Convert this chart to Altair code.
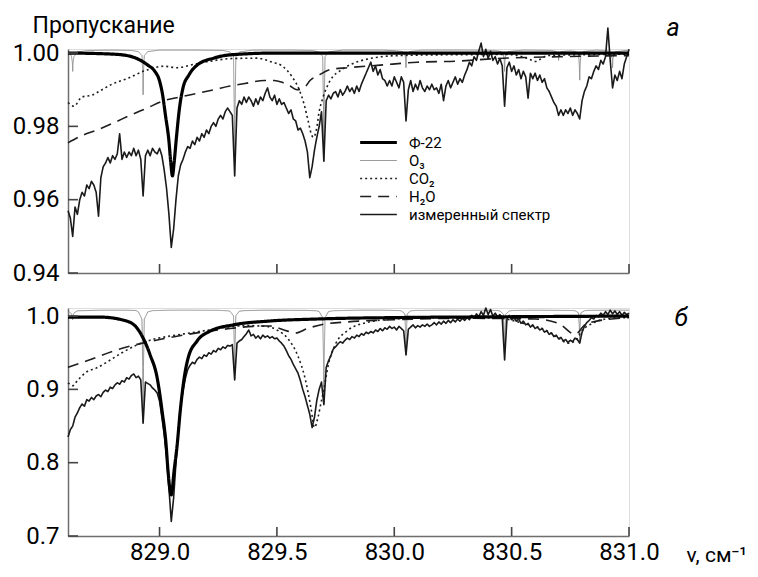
import altair as alt
import numpy as np
import pandas as pd

FONT = "Roboto"
AXIS_COLOR = "#6e6e6e"
W = 561
H_A = 224
H_B = 228

SERIES = ["Ф-22", "O₃", "CO₂", "H₂O", "измеренный спектр"]
COLORS = ["#000000", "#8f8f8f", "#1e1e1e", "#1e1e1e", "#1a1a1a"]
DASHES = [[1, 0], [1, 0], [2, 3], [11, 7], [1, 0]]
WIDTHS = [3.2, 1.0, 1.6, 1.6, 1.6]

X_TICKS = [829.0, 829.5, 830.0, 830.5, 831.0]
Y_TICKS_A = [0.94, 0.96, 0.98, 1.00]
Y_TICKS_B = [0.7, 0.8, 0.9, 1.0]

# sampling grid of the measured spectrum (cm-1)
NU_GRID = np.round(828.61 + 0.01 * np.arange(240), 2)

# ---------------- panel a ----------------
MEAS_A = [
    0.957, 0.955, 0.950, 0.958, 0.956, 0.960, 0.962, 0.961, 0.964, 0.963,
    0.965, 0.964, 0.962, 0.9555, 0.966, 0.969, 0.970, 0.9715, 0.970, 0.972,
    0.971, 0.9725, 0.978, 0.971, 0.973, 0.9715, 0.973, 0.972, 0.974, 0.972,
    0.9735, 0.971, 0.961, 0.972, 0.9735, 0.972, 0.974, 0.973, 0.9725, 0.974,
    0.972, 0.968, 0.963, 0.956, 0.947, 0.952, 0.960, 0.9665, 0.9695, 0.971,
    0.973, 0.9745, 0.974, 0.976, 0.975, 0.977, 0.976, 0.978, 0.977, 0.979,
    0.978, 0.980, 0.981, 0.980, 0.982, 0.983, 0.982, 0.984, 0.985, 0.984,
    0.983, 0.9665, 0.985, 0.987, 0.986, 0.988, 0.9865, 0.988, 0.987, 0.9855,
    0.9875, 0.986, 0.988, 0.987, 0.989, 0.9905, 0.988, 0.987, 0.9885, 0.986,
    0.9875, 0.986, 0.9865, 0.985, 0.9835, 0.9845, 0.982, 0.9815, 0.979, 0.9795,
    0.978, 0.976, 0.973, 0.966, 0.969, 0.9735, 0.977, 0.980, 0.984, 0.9705,
    0.987, 0.9885, 0.9875, 0.989, 0.9895, 0.988, 0.990, 0.9885, 0.9895, 0.991,
    0.9895, 0.9905, 0.989, 0.991, 0.9895, 0.9915, 0.993, 0.9945, 0.996, 0.9975,
    0.995, 0.9965, 0.994, 0.9955, 0.993, 0.9925, 0.991, 0.9925, 0.991, 0.9935,
    0.992, 0.9905, 0.9935, 0.992, 0.9815, 0.990, 0.9925, 0.9895, 0.9915, 0.990,
    0.9925, 0.9905, 0.9895, 0.991, 0.990, 0.9915, 0.990, 0.9905, 0.989, 0.9915,
    0.987, 0.991, 0.9925, 0.9905, 0.992, 0.9935, 0.9915, 0.993, 0.992, 0.994,
    0.9955, 0.9975, 0.9965, 0.999, 0.998, 1.0005, 1.0027, 0.999, 1.001, 0.9985,
    1.0005, 0.998, 0.999, 0.997, 0.9985, 0.9965, 0.9855, 0.996, 0.9975, 0.995,
    0.9965, 0.994, 0.9955, 0.993, 0.995, 0.9935, 0.9877, 0.9945, 0.993, 0.9945,
    0.9925, 0.994, 0.992, 0.993, 0.9905, 0.9895, 0.988, 0.9865, 0.9855, 0.983,
    0.9845, 0.983, 0.9845, 0.9835, 0.985, 0.983, 0.9845, 0.9835, 0.982, 0.987,
    0.9895, 0.991, 0.9935, 0.993, 0.995, 0.9965, 0.9955, 0.998, 0.997, 0.999,
    1.0068, 0.998, 0.9905, 0.994, 0.9925, 0.995, 0.993, 0.997, 0.999, 1.001,
]

F22_A_NU = [828.61, 828.80, 828.87, 828.95, 828.98, 829.00, 829.013, 829.025, 829.04,
            829.048, 829.055, 829.062, 829.072, 829.085, 829.10, 829.125, 829.16,
            829.23, 829.30, 829.50, 831.0]
F22_A_T = [1.0, 0.9997, 0.9992, 0.9967, 0.995, 0.9924, 0.9886, 0.9831, 0.976,
           0.970, 0.9665, 0.970, 0.977, 0.985, 0.9905, 0.994, 0.9967,
           0.9986, 0.9995, 1.0, 1.0]

O3_A_NU = [828.610, 828.620, 828.625, 828.6285, 828.630, 828.6315, 828.635, 828.650,
           828.70, 828.80, 828.88,
           828.910, 828.925, 828.9285, 828.930, 828.9315, 828.935, 828.950,
           829.00, 829.15, 829.27,
           829.300, 829.315, 829.3185, 829.320, 829.3215, 829.325, 829.340,
           829.40, 829.55, 829.65,
           829.680, 829.695, 829.6985, 829.700, 829.7015, 829.705, 829.720,
           829.78, 829.95, 830.01,
           830.035, 830.045, 830.0485, 830.050, 830.0515, 830.055, 830.065,
           830.12, 830.30, 830.43,
           830.455, 830.465, 830.4685, 830.470, 830.4715, 830.475, 830.485,
           830.55, 830.67,
           830.690, 830.6985, 830.700, 830.7015, 830.710,
           830.75,
           830.775, 830.785, 830.7885, 830.790, 830.7915, 830.795, 830.805,
           830.86, 830.91,
           830.920, 830.9285, 830.930, 830.9315, 830.940,
           831.00]
O3_A_T = [1.0003, 0.9998, 0.9990, 0.9975, 0.9950, 0.9975, 0.9990, 1.0003,
          1.0007, 1.0008, 1.0007,
          1.0004, 0.9993, 0.9947, 0.9886, 0.9947, 0.9993, 1.0004,
          1.0008, 1.0008, 1.0007,
          1.0003, 0.9990, 0.9836, 0.9665, 0.9836, 0.9990, 1.0003,
          1.0008, 1.0008, 1.0007,
          1.0003, 0.9990, 0.9856, 0.9705, 0.9856, 0.9990, 1.0003,
          1.0008, 1.0008, 1.0006,
          1.0004, 0.9998, 0.9985, 0.9960, 0.9985, 0.9998, 1.0004,
          1.0008, 1.0008, 1.0007,
          1.0004, 0.9997, 0.9980, 0.9950, 0.9980, 0.9997, 1.0004,
          1.0008, 1.0007,
          1.0004, 0.9994, 0.9980, 0.9994, 1.0004,
          1.0006,
          1.0004, 0.9996, 0.9966, 0.9926, 0.9966, 0.9996, 1.0004,
          1.0008, 1.0006,
          1.0003, 0.9985, 0.9960, 0.9985, 1.0003,
          1.0008]

CO2_A_NU = [828.61, 828.635, 828.669, 828.712, 828.755, 828.797, 828.861, 828.947,
            829.019, 829.074, 829.138, 829.202, 829.309, 829.416, 829.48, 829.522,
            829.565, 829.595, 829.616, 829.633, 829.646, 829.655, 829.668, 829.68,
            829.697, 829.727, 829.778, 829.863, 830.012, 830.183, 830.482, 830.546,
            830.58, 830.601, 830.622, 830.652, 830.865, 831.0]
CO2_A_T = [0.9865, 0.9855, 0.988, 0.9885, 0.990, 0.9915, 0.993, 0.9954,
           0.9964, 0.996, 0.9968, 0.9976, 0.9985, 0.9986, 0.9975, 0.9965,
           0.9935, 0.990, 0.986, 0.9815, 0.978, 0.977, 0.979, 0.984,
           0.988, 0.9925, 0.9955, 0.998, 0.9993, 0.9995, 0.9996, 0.999,
           0.9982, 0.9977, 0.9983, 0.9993, 0.9996, 0.9997]

H2O_A_NU = [828.61, 828.67, 828.734, 828.806, 828.874, 828.947, 829.019, 829.087,
            829.16, 829.232, 829.30, 829.373, 829.446, 829.488, 829.522, 829.556,
            829.586, 829.616, 829.641, 829.68, 829.727, 829.80, 829.94, 830.098,
            830.269, 830.44, 830.696, 831.0]
H2O_A_T = [0.9755, 0.9775, 0.979, 0.981, 0.983, 0.985, 0.987, 0.988,
           0.989, 0.990, 0.991, 0.9918, 0.9925, 0.9925, 0.992, 0.991,
           0.990, 0.9905, 0.9925, 0.994, 0.9955, 0.996, 0.9967, 0.9975,
           0.9978, 0.9985, 0.999, 0.9993]

# ---------------- panel б ----------------
MEAS_B = [
    0.835, 0.845, 0.850, 0.862, 0.868, 0.875, 0.880, 0.877, 0.886, 0.884,
    0.889, 0.886, 0.891, 0.893, 0.890, 0.896, 0.899, 0.897, 0.903, 0.901,
    0.906, 0.909, 0.907, 0.912, 0.910, 0.916, 0.914, 0.919, 0.921, 0.916,
    0.918, 0.913, 0.854, 0.910, 0.908, 0.906, 0.902, 0.899, 0.895, 0.884,
    0.862, 0.838, 0.808, 0.765, 0.720, 0.752, 0.800, 0.846, 0.878, 0.898,
    0.915, 0.927, 0.933, 0.937, 0.935, 0.941, 0.944, 0.942, 0.947, 0.945,
    0.950, 0.948, 0.953, 0.951, 0.956, 0.954, 0.958, 0.956, 0.960, 0.959,
    0.961, 0.913, 0.963, 0.966, 0.968, 0.972, 0.976, 0.981, 0.973, 0.975,
    0.970, 0.973, 0.969, 0.974, 0.971, 0.973, 0.970, 0.972, 0.969, 0.970,
    0.966, 0.963, 0.959, 0.953, 0.946, 0.941, 0.934, 0.928, 0.922, 0.912,
    0.900, 0.890, 0.878, 0.866, 0.848, 0.862, 0.885, 0.900, 0.910, 0.879,
    0.930, 0.939, 0.946, 0.955, 0.958, 0.962, 0.965, 0.963, 0.967, 0.970,
    0.968, 0.972, 0.970, 0.974, 0.972, 0.976, 0.974, 0.978, 0.976, 0.979,
    0.977, 0.981, 0.979, 0.983, 0.980, 0.984, 0.982, 0.986, 0.983, 0.985,
    0.981, 0.986, 0.983, 0.980, 0.947, 0.982, 0.985, 0.988, 0.984, 0.987,
    0.985, 0.988, 0.986, 0.989, 0.986, 0.988, 0.991, 0.988, 0.992, 0.989,
    0.993, 0.990, 0.994, 0.991, 0.995, 0.992, 0.996, 0.993, 0.997, 0.994,
    0.998, 0.995, 1.001, 0.997, 1.003, 0.999, 1.006, 1.001, 1.011, 1.002,
    1.009, 1.000, 1.004, 0.999, 1.002, 0.998, 0.940, 0.996, 1.001, 0.995,
    0.998, 0.993, 0.996, 0.990, 0.993, 0.988, 0.990, 0.985, 0.988, 0.983,
    0.985, 0.981, 0.983, 0.978, 0.980, 0.975, 0.977, 0.972, 0.974, 0.969,
    0.971, 0.966, 0.968, 0.964, 0.967, 0.965, 0.970, 0.968, 0.963, 0.978,
    0.986, 0.991, 0.994, 0.998, 0.996, 1.001, 0.999, 1.004, 1.001, 1.006,
    1.002, 1.008, 1.003, 1.007, 1.002, 1.006, 1.001, 1.005, 1.002, 1.004,
]

F22_B_NU = [828.61, 828.746, 828.862, 828.904, 828.93, 828.96, 828.99, 829.011, 829.028,
            829.036, 829.05, 829.062, 829.075, 829.088, 829.105, 829.122, 829.16,
            829.216, 829.314, 829.459, 829.672, 830.026, 830.452, 831.0]
F22_B_T = [0.9986, 0.9986, 0.993, 0.9836, 0.970, 0.947, 0.9155, 0.870, 0.824,
           0.789, 0.756, 0.789, 0.824, 0.870, 0.9155, 0.943, 0.966,
           0.9795, 0.988, 0.993, 0.996, 0.998, 0.999, 1.0]

O3_B_NU = [828.610, 828.615, 828.625, 828.6285, 828.630, 828.6315, 828.635, 828.650,
           828.75, 828.85, 828.90,
           828.910, 828.925, 828.9285, 828.930, 828.9315, 828.935, 828.950,
           828.97, 829.05, 829.15, 829.25, 829.29,
           829.300, 829.315, 829.3185, 829.320, 829.3215, 829.325, 829.340,
           829.36, 829.45, 829.55, 829.62, 829.67,
           829.680, 829.695, 829.6985, 829.700, 829.7015, 829.705, 829.720,
           829.74, 829.85, 829.95, 830.02,
           830.030, 830.045, 830.0485, 830.050, 830.0515, 830.055, 830.070,
           830.09, 830.20, 830.30, 830.40, 830.44,
           830.450, 830.465, 830.4685, 830.470, 830.4715, 830.475, 830.490,
           830.51, 830.60, 830.68, 830.76,
           830.770, 830.785, 830.7885, 830.790, 830.7915, 830.795, 830.810,
           830.83, 830.92, 831.00]
O3_B_T = [1.0040, 1.0055, 1.0030, 1.0000, 0.9950, 1.0000, 1.0040, 1.0072,
          1.0080, 1.0080, 1.0076,
          1.0057, 0.9957, 0.9310, 0.8540, 0.9310, 0.9957, 1.0057,
          1.0074, 1.0080, 1.0080, 1.0078, 1.0072,
          1.0066, 1.0004, 0.9605, 0.9130, 0.9605, 1.0004, 1.0066,
          1.0074, 1.0080, 1.0078, 1.0078, 1.0072,
          1.0061, 0.9978, 0.9440, 0.8800, 0.9440, 0.9978, 1.0061,
          1.0073, 1.0080, 1.0080, 1.0075,
          1.0071, 1.0031, 0.9775, 0.9470, 0.9775, 1.0031, 1.0071,
          1.0077, 1.0080, 1.0078, 1.0080, 1.0076,
          1.0070, 1.0026, 0.9740, 0.9400, 0.9740, 1.0026, 1.0070,
          1.0077, 1.0080, 1.0078, 1.0076,
          1.0073, 1.0044, 0.9855, 0.9630, 0.9855, 1.0044, 1.0073,
          1.0078, 1.0080, 1.0080]

CO2_B_NU = [828.61, 828.63, 828.65, 828.69, 828.73, 828.78, 828.84, 828.90, 828.97,
            829.05, 829.13, 829.21, 829.29, 829.37, 829.45, 829.50, 829.55, 829.59,
            829.62, 829.645, 829.66, 829.675, 829.69, 829.70, 829.72, 829.75, 829.80,
            829.88, 830.0, 830.2, 830.45, 830.55, 830.6, 830.65, 830.70, 830.74,
            830.77, 830.80, 830.85, 830.9, 831.0]
CO2_B_T = [0.909, 0.905, 0.912, 0.924, 0.929, 0.938, 0.950, 0.960, 0.968,
           0.973, 0.977, 0.981, 0.985, 0.987, 0.986, 0.981, 0.968, 0.945,
           0.915, 0.875, 0.848, 0.862, 0.885, 0.900, 0.935, 0.962, 0.980,
           0.991, 0.996, 0.998, 0.997, 0.990, 0.986, 0.980, 0.970, 0.963,
           0.966, 0.980, 0.991, 0.996, 0.998]

H2O_B_NU = [828.61, 828.70, 828.80, 828.90, 829.00, 829.10, 829.20, 829.30, 829.40,
            829.47, 829.53, 829.58, 829.63, 829.70, 829.80, 830.0, 830.3, 830.6,
            830.70, 830.77, 830.82, 831.0]
H2O_B_T = [0.930, 0.940, 0.952, 0.961, 0.968, 0.974, 0.979, 0.983, 0.986,
           0.9865, 0.981, 0.977, 0.983, 0.989, 0.992, 0.995, 0.997, 0.996,
           0.990, 0.975, 0.990, 0.998]


def panel(parts, ydom, yticks, yfmt, height, bottom, label, label_x, label_y, legend):
    xs = alt.Scale(domain=[828.61, 831.0], nice=False, zero=False)
    ys = alt.Scale(domain=ydom, nice=False, zero=False)
    enc = dict(
        color=alt.Color("series:N", scale=alt.Scale(domain=SERIES, range=COLORS), legend=legend),
        strokeDash=alt.StrokeDash("series:N", scale=alt.Scale(domain=SERIES, range=DASHES), legend=legend),
        strokeWidth=alt.StrokeWidth("series:N", scale=alt.Scale(type="ordinal", domain=SERIES, range=WIDTHS),
                                    legend=legend),
    )
    if bottom:
        x_main = alt.Axis(orient="bottom", values=X_TICKS, format=".1f", ticks=False, grid=False,
                          domainColor=AXIS_COLOR, domainWidth=1.5, labelFont=FONT, labelFontSize=24,
                          labelColor="black", labelPadding=4, labelFlush=False,
                          title="ν, см⁻¹", titleFont=FONT, titleFontSize=21, titleFontWeight="normal",
                          titleColor="black", titleX=618, titleY=25, titleAlign="left",
                          titleBaseline="alphabetic", titleAngle=0)
        y_main = alt.Axis(orient="left", values=yticks, format=yfmt, ticks=False, grid=False,
                          domainColor=AXIS_COLOR, domainWidth=1.5, labelFont=FONT, labelFontSize=24,
                          labelColor="black", labelPadding=9, labelFlush=False, title=None)
    else:
        x_main = alt.Axis(orient="bottom", values=X_TICKS, ticks=False, labels=False, grid=False,
                          domainColor=AXIS_COLOR, domainWidth=1.5, title=None)
        y_main = alt.Axis(orient="left", values=yticks, format=yfmt, ticks=False, grid=False,
                          domainColor=AXIS_COLOR, domainWidth=1.5, labelFont=FONT, labelFontSize=24,
                          labelColor="black", labelPadding=9, labelFlush=False,
                          title="Пропускание", titleFont=FONT, titleFontSize=23,
                          titleFontWeight="normal", titleColor="black", titleAngle=0,
                          titleAlign="left", titleBaseline="alphabetic", titleX=-36, titleY=-17)
    y_label = alt.Axis(orient="right", offset=-W, values=yticks, domain=False, labels=False,
                       grid=False, ticks=False,
                       title=label, titleFont=FONT, titleFontSize=25, titleFontStyle="italic",
                       titleFontWeight="normal", titleColor="black", titleAngle=0,
                       titleAlign="left", titleBaseline="alphabetic", titleX=label_x, titleY=label_y)

    layers = []
    for name, nu, T, interp, role in parts:
        df = pd.DataFrame({"nu": nu, "T": T, "series": name})
        if role == "main":
            xa, ya = x_main, y_main
        elif role == "label":
            xa, ya = None, y_label
        else:
            xa, ya = None, None
        layers.append(
            alt.Chart(df).mark_line(interpolate=interp, strokeJoin="round").encode(
                x=alt.X("nu:Q", scale=xs, axis=xa),
                y=alt.Y("T:Q", scale=ys, axis=ya),
                **enc,
            )
        )

    # inward tick marks at the axis values (positions from the scales)
    x_ticks = alt.Chart(pd.DataFrame({"v": X_TICKS})).mark_rule(
        color="#444444", strokeWidth=1.6
    ).encode(x=alt.X("v:Q", scale=xs, axis=None),
             y=alt.value(height), y2=alt.value(height - 9))
    y_ticks = alt.Chart(pd.DataFrame({"v": yticks})).mark_rule(
        color="#444444", strokeWidth=1.6
    ).encode(y=alt.Y("v:Q", scale=ys, axis=None),
             x=alt.value(0), x2=alt.value(10))

    return alt.layer(*layers, x_ticks, y_ticks).resolve_axis(x="independent", y="independent").properties(
        width=W, height=height)


legend_a = alt.Legend(orient="none", legendX=303, legendY=86, title=None,
                      symbolType="M-3.5,0H3.5", symbolSize=110, labelFont=FONT,
                      labelFontSize=15, labelColor="black", labelOffset=23, rowPadding=2,
                      padding=0, labelLimit=300)

top = panel(
    [
        ("O₃", O3_A_NU, O3_A_T, "linear", "label"),
        ("H₂O", H2O_A_NU, H2O_A_T, "monotone", "none"),
        ("CO₂", CO2_A_NU, CO2_A_T, "monotone", "none"),
        ("измеренный спектр", NU_GRID, MEAS_A, "linear", "main"),
        ("Ф-22", F22_A_NU, F22_A_T, "monotone", "none"),
    ],
    [0.94, 1.0011], Y_TICKS_A, ".2f", H_A, False, "a", 598, -14, legend_a,
)

bottom = panel(
    [
        ("O₃", O3_B_NU, O3_B_T, "linear", "label"),
        ("H₂O", H2O_B_NU, H2O_B_T, "monotone", "none"),
        ("CO₂", CO2_B_NU, CO2_B_T, "monotone", "none"),
        ("измеренный спектр", NU_GRID, MEAS_B, "linear", "main"),
        ("Ф-22", F22_B_NU, F22_B_T, "monotone", "none"),
    ],
    [0.7, 1.011], Y_TICKS_B, ".1f", H_B, True, "б", 606, 17, None,
)

chart = (
    alt.vconcat(top, bottom, spacing=35, bounds="flush")
    .resolve_scale(x="independent", y="independent", color="independent",
                   strokeDash="independent", strokeWidth="independent")
    .configure_view(stroke=None)
    .configure(font=FONT)
    .properties(padding={"left": 3, "top": 5, "right": 0, "bottom": 0})
)

chart.save("out.html", embed_options={"renderer": "svg", "actions": False})
